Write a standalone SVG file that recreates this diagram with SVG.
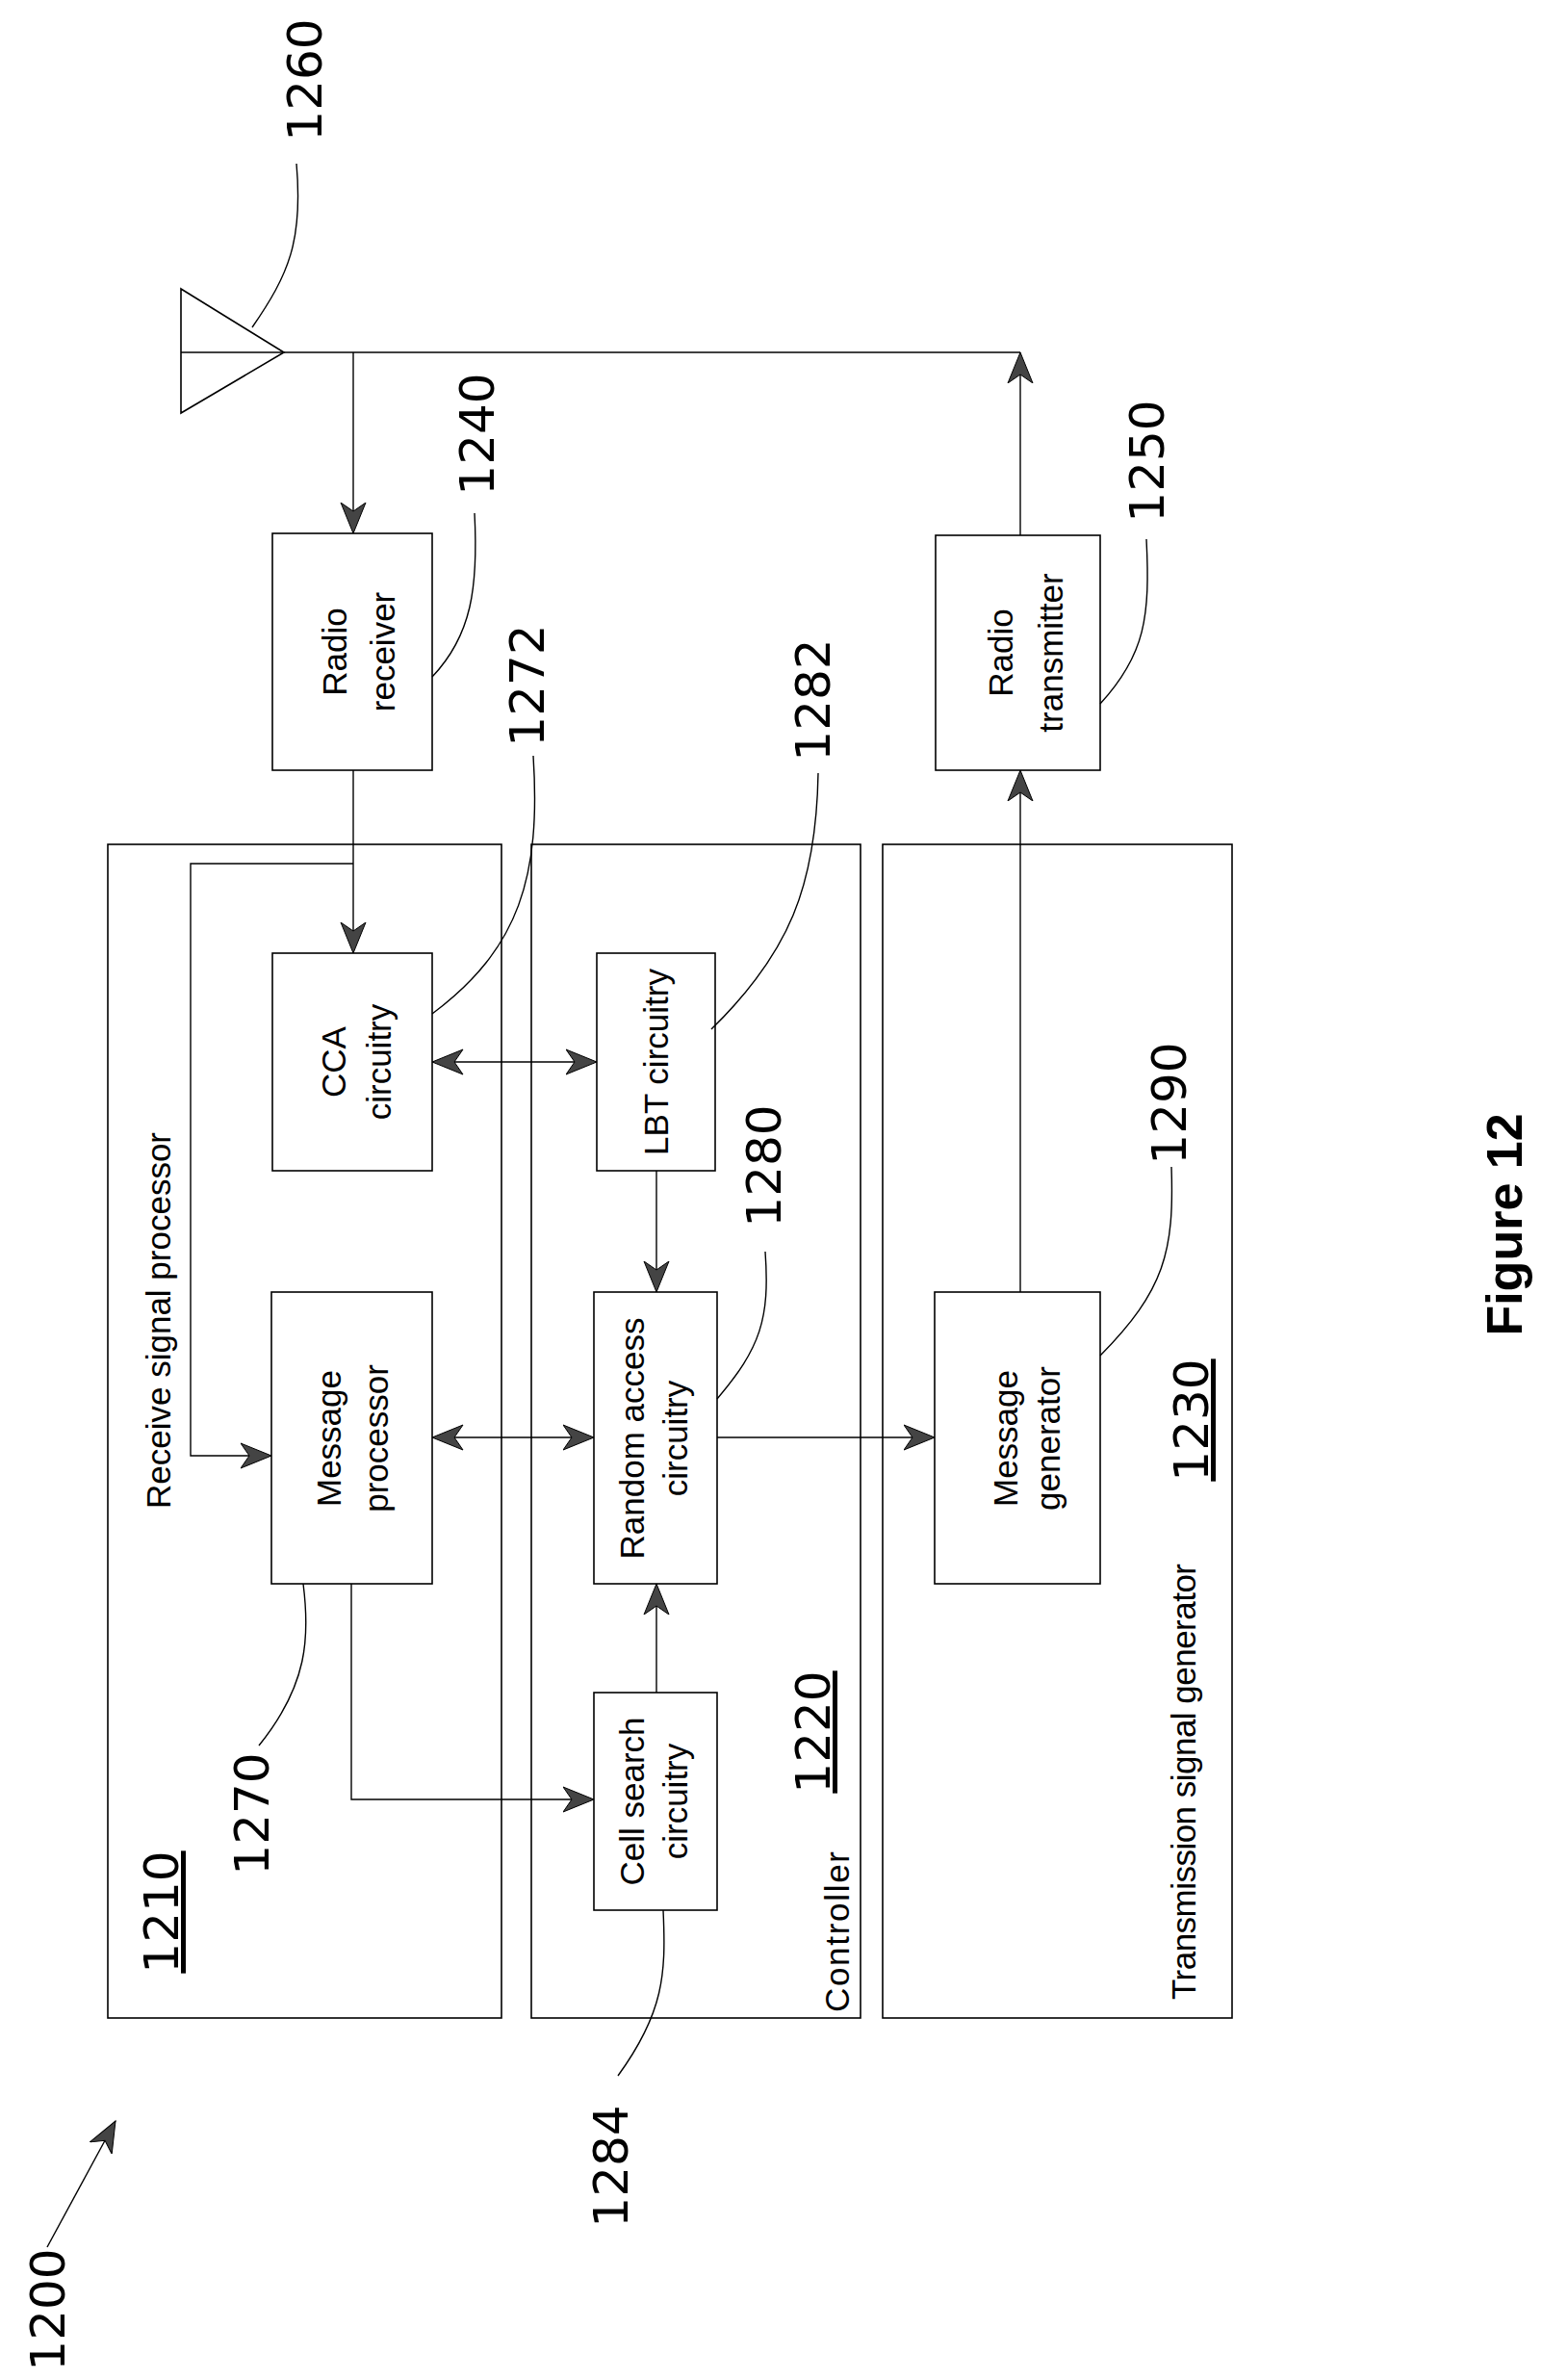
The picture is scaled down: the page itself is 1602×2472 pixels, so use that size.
<svg xmlns="http://www.w3.org/2000/svg" width="1602" height="2472" viewBox="0 0 1602 2472">
<style>
.b{fill:none;stroke:#000;stroke-width:1.6}
.c{fill:none;stroke:#000;stroke-width:1.4}
.t{font-family:"Liberation Sans",Arial,sans-serif;fill:#000;font-size:35px}
.n{font-family:"DejaVu Sans","Liberation Sans",sans-serif;fill:#000;font-size:50px}
.u{text-decoration:underline}
</style>
<defs>
<marker id="a" markerWidth="34" markerHeight="34" refX="32" refY="17" orient="auto" markerUnits="userSpaceOnUse">
<path d="M0,4 L32,17 L0,30 L9,17 Z" fill="#444" stroke="#000" stroke-width="1"/>
</marker>
<marker id="s" markerWidth="34" markerHeight="34" refX="0" refY="17" orient="auto" markerUnits="userSpaceOnUse">
<path d="M32,4 L0,17 L32,30 L23,17 Z" fill="#444" stroke="#000" stroke-width="1"/>
</marker>
</defs>
<rect width="1602" height="2472" fill="#fff"/>

<g id="n1210"><rect class="b" x="112" y="877" width="409" height="1219"/>
<text class="t" font-size="36" transform="translate(177,1567) rotate(-90)">Receive signal processor</text>
<text class="n u" text-anchor="middle" transform="translate(185,1986) rotate(-90)">1210</text></g>
<g id="n1220"><rect class="b" x="552" y="877" width="342" height="1219"/>
<text class="t" transform="translate(882,2090) rotate(-90)" textLength="167">Controller</text>
<text class="n u" text-anchor="middle" transform="translate(862,1799) rotate(-90)">1220</text></g>
<g id="n1230"><rect class="b" x="917" y="877" width="363" height="1219"/>
<text class="t" font-size="33" transform="translate(1242,2077) rotate(-90)" textLength="453">Transmission signal generator</text>
<text class="n u" text-anchor="middle" transform="translate(1255,1475) rotate(-90)">1230</text></g>

<g id="n1260"><polygon class="b" points="188,300 295,366 188,429"/>
<text class="n" text-anchor="middle" transform="translate(334,83) rotate(-90)">1260</text></g>
<g id="n1240"><rect class="b" x="283" y="554" width="166" height="246"/>
<text class="t" text-anchor="middle" transform="translate(360,677) rotate(-90)">Radio</text>
<text class="t" text-anchor="middle" transform="translate(410,677) rotate(-90)">receiver</text>
<text class="n" text-anchor="middle" transform="translate(513,451) rotate(-90)">1240</text></g>
<g id="n1250"><rect class="b" x="972" y="556" width="171" height="244"/>
<text class="t" text-anchor="middle" transform="translate(1052,678) rotate(-90)">Radio</text>
<text class="t" text-anchor="middle" transform="translate(1104,678) rotate(-90)">transmitter</text>
<text class="n" text-anchor="middle" transform="translate(1209,479) rotate(-90)">1250</text></g>
<g id="n1272"><rect class="b" x="283" y="990" width="166" height="226"/>
<text class="t" font-size="40" text-anchor="middle" transform="translate(359,1103) rotate(-90)">CCA</text>
<text class="t" font-size="40" text-anchor="middle" transform="translate(406,1103) rotate(-90)">circuitry</text>
<text class="n" text-anchor="middle" transform="translate(565,712) rotate(-90)">1272</text></g>
<g id="n1282"><rect class="b" x="620" y="990" width="123" height="226"/>
<text class="t" text-anchor="middle" transform="translate(694,1103) rotate(-90)">LBT circuitry</text>
<text class="n" text-anchor="middle" transform="translate(862,727) rotate(-90)">1282</text></g>
<g id="n1270"><rect class="b" x="282" y="1342" width="167" height="303"/>
<text class="t" text-anchor="middle" transform="translate(354,1494) rotate(-90)">Message</text>
<text class="t" text-anchor="middle" transform="translate(403,1494) rotate(-90)">processor</text>
<text class="n" text-anchor="middle" transform="translate(279,1884) rotate(-90)">1270</text></g>
<g id="n1280"><rect class="b" x="617" y="1342" width="128" height="303"/>
<text class="t" text-anchor="middle" transform="translate(669,1494) rotate(-90)">Random access</text>
<text class="t" text-anchor="middle" transform="translate(714,1494) rotate(-90)">circuitry</text>
<text class="n" text-anchor="middle" transform="translate(811,1211) rotate(-90)">1280</text></g>
<g id="n1290"><rect class="b" x="971" y="1342" width="172" height="303"/>
<text class="t" text-anchor="middle" transform="translate(1057,1494) rotate(-90)">Message</text>
<text class="t" text-anchor="middle" transform="translate(1101,1494) rotate(-90)">generator</text>
<text class="n" text-anchor="middle" transform="translate(1232,1146) rotate(-90)">1290</text></g>
<g id="n1284"><rect class="b" x="617" y="1758" width="128" height="226"/>
<text class="t" text-anchor="middle" transform="translate(669,1871) rotate(-90)">Cell search</text>
<text class="t" text-anchor="middle" transform="translate(714,1871) rotate(-90)">circuitry</text>
<text class="n" text-anchor="middle" transform="translate(652,2250) rotate(-90)">1284</text></g>
<g id="n1200"><text class="n" text-anchor="middle" transform="translate(67,2399) rotate(-90)">1200</text></g>
<g id="fig"><text font-family="Liberation Sans,Arial,sans-serif" font-weight="bold" font-size="52" text-anchor="middle" transform="translate(1581,1272) rotate(-90)">Figure 12</text></g>

<g id="connectors">
<path class="c" d="M188,366 H1060"/>
<path class="c" d="M367,366 V554" marker-end="url(#a)"/>
<path class="c" d="M1060,556 V366" marker-end="url(#a)"/>
<path class="c" d="M367,800 V990" marker-end="url(#a)"/>
<path class="c" d="M367,897 H198 V1512 H282" marker-end="url(#a)"/>
<path class="c" d="M449,1103 H620" marker-start="url(#s)" marker-end="url(#a)"/>
<path class="c" d="M682,1216 V1342" marker-end="url(#a)"/>
<path class="c" d="M449,1493 H617" marker-start="url(#s)" marker-end="url(#a)"/>
<path class="c" d="M745,1493 H971" marker-end="url(#a)"/>
<path class="c" d="M682,1758 V1645" marker-end="url(#a)"/>
<path class="c" d="M365,1645 V1869 H617" marker-end="url(#a)"/>
<path class="c" d="M1060,1342 V800" marker-end="url(#a)"/>
<path class="c" d="M49,2334 L120,2203" marker-end="url(#a)"/>
<path class="c" d="M308,170 C315,250 300,285 262,340"/>
<path class="c" d="M493,533 C497,610 490,660 449,703"/>
<path class="c" d="M554,785 C562,910 540,985 449,1053"/>
<path class="c" d="M850,803 C848,920 820,990 739,1069"/>
<path class="c" d="M1191,560 C1195,640 1190,680 1143,731"/>
<path class="c" d="M1217,1212 C1220,1300 1210,1340 1143,1408"/>
<path class="c" d="M795,1300 C800,1370 790,1400 745,1453"/>
<path class="c" d="M269,1813 C320,1750 322,1700 315,1645"/>
<path class="c" d="M689,1984 C692,2050 690,2090 642,2156"/>
</g>
</svg>
